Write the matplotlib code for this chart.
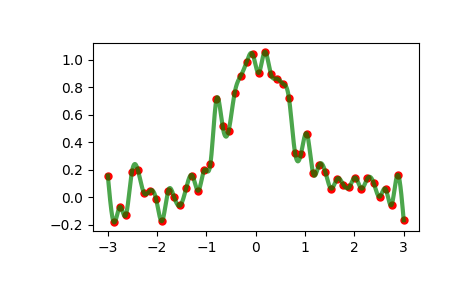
import numpy as np
import matplotlib
matplotlib.use("Agg")
import matplotlib.pyplot as plt
from matplotlib.ticker import MultipleLocator

# Puntos (50 muestras entre -3 y 3)
x = np.linspace(-3, 3, 50)
y = np.array([
    0.159, -0.180, -0.068, -0.127, 0.186, 0.196, 0.032, 0.049, -0.012, -0.171,
    0.049, 0.000, -0.058, 0.071, 0.159, 0.049, 0.200, 0.245, 0.714, 0.518,
    0.482, 0.758, 0.882, 0.985, 1.039, 0.905, 1.058, 0.897, 0.863, 0.826,
    0.721, 0.325, 0.318, 0.458, 0.174, 0.237, 0.188, 0.064, 0.137, 0.093,
    0.076, 0.144, 0.064, 0.139, 0.108, 0.005, 0.061, -0.053, 0.164, -0.166,
])


def spline_natural(xk, yk, xs):
    # Spline cubico natural que pasa por todos los puntos
    n = len(xk)
    h = np.diff(xk)
    A = np.zeros((n, n))
    b = np.zeros(n)
    A[0, 0] = 1
    A[-1, -1] = 1
    for i in range(1, n - 1):
        A[i, i - 1] = h[i - 1]
        A[i, i] = 2 * (h[i - 1] + h[i])
        A[i, i + 1] = h[i]
        b[i] = 6 * ((yk[i + 1] - yk[i]) / h[i] - (yk[i] - yk[i - 1]) / h[i - 1])
    M = np.linalg.solve(A, b)
    idx = np.clip(np.searchsorted(xk, xs) - 1, 0, n - 2)
    x0, x1 = xk[idx], xk[idx + 1]
    hh = x1 - x0
    t0, t1 = x1 - xs, xs - x0
    return (M[idx] * t0**3 / (6 * hh) + M[idx + 1] * t1**3 / (6 * hh)
            + (yk[idx] / hh - M[idx] * hh / 6) * t0
            + (yk[idx + 1] / hh - M[idx + 1] * hh / 6) * t1)


xs = np.linspace(-3, 3, 1000)
ys = spline_natural(x, y, xs)

fig = plt.figure(figsize=(4.65, 2.88), dpi=100)
ax = fig.add_subplot(111)
fig.subplots_adjust(left=0.2, right=0.9, bottom=0.198, top=0.85)

ax.plot(x, y, 'ro', ms=5)
ax.plot(xs, ys, 'g', lw=3, alpha=0.7)
ax.yaxis.set_major_locator(MultipleLocator(0.2))

fig.savefig("out.png", dpi=100)
